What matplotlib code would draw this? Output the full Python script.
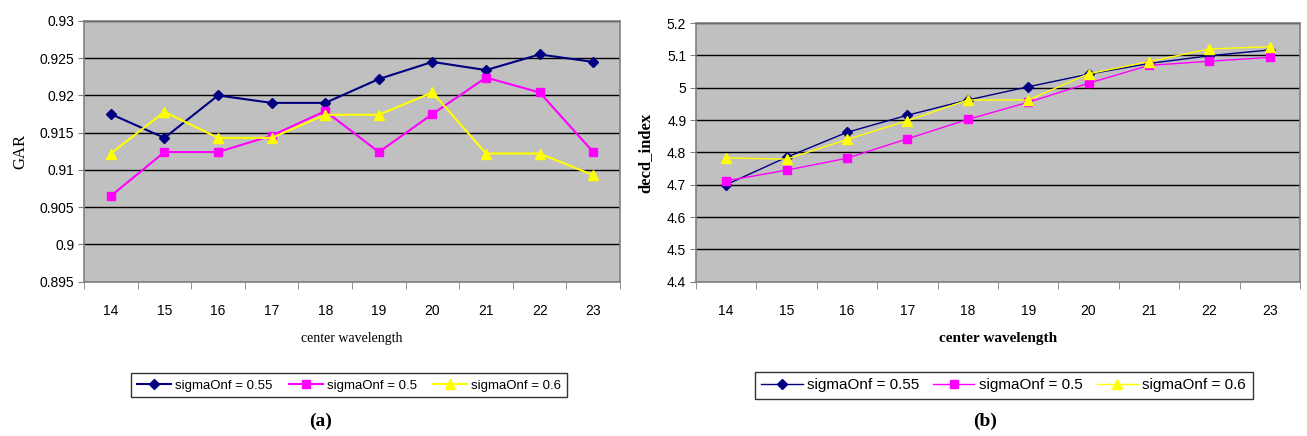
import matplotlib.pyplot as plt
import numpy as np

# ----------------------------------------------------
# DATA
# ----------------------------------------------------
wavelengths = ["14", "15", "16", "17", "18", "19", "20", "21", "22", "23"]
series_labels = ["sigmaOnf = 0.55", "sigmaOnf = 0.5", "sigmaOnf = 0.6"]

gar_055 = [0.9175, 0.9143, 0.9200, 0.9190, 0.9190, 0.9222, 0.9245, 0.9234, 0.9255, 0.9245]
gar_050 = [0.9065, 0.9124, 0.9124, 0.9146, 0.9179, 0.9124, 0.9175, 0.9224, 0.9204, 0.9124]
gar_060 = [0.9122, 0.9178, 0.9143, 0.9143, 0.9174, 0.9174, 0.9204, 0.9122, 0.9122, 0.9093]

decd_055 = [4.700, 4.785, 4.862, 4.915, 4.962, 5.003, 5.042, 5.075, 5.099, 5.117]
decd_050 = [4.712, 4.745, 4.782, 4.842, 4.902, 4.955, 5.014, 5.069, 5.082, 5.094]
decd_060 = [4.783, 4.779, 4.840, 4.898, 4.962, 4.962, 5.043, 5.081, 5.120, 5.127]

colors = ["#000080", "#FF00FF", "#FFFF00"]
markers = ["D", "s", "^"]
msizes = [5, 6, 7]

SANS = "Liberation Sans"
SERIF = "Liberation Serif"


def style_axes(ax, ylim, yticks, yfmt):
    n = len(wavelengths)
    x = np.arange(n)
    ax.set_facecolor("#C0C0C0")
    ax.set_xlim(-0.5, n - 0.5)
    ax.set_ylim(*ylim)
    ax.set_yticks(yticks)
    ax.set_yticklabels([yfmt(v) for v in yticks], fontfamily=SANS, fontsize=10)
    # category labels centred, tick marks on boundaries
    ax.set_xticks(x)
    ax.set_xticklabels(wavelengths, fontfamily=SANS, fontsize=10)
    ax.tick_params(axis="x", which="major", length=0, pad=16)
    ax.set_xticks(np.arange(-0.5, n, 1.0), minor=True)
    ax.tick_params(axis="x", which="minor", length=5, direction="out", color="#808080")
    ax.tick_params(axis="y", length=4, direction="out", color="#808080", pad=3)
    ax.grid(axis="y", color="black", linewidth=1.0)
    ax.set_axisbelow(True)
    for s in ax.spines.values():
        s.set_color("#808080")
        s.set_linewidth(1.2)


fig = plt.figure(figsize=(13.07, 4.36), dpi=100)

ax1 = fig.add_axes([0.0643, 0.354, 0.4101, 0.598])
ax2 = fig.add_axes([0.5325, 0.354, 0.4621, 0.593])

x = np.arange(len(wavelengths))

for ys, c, m, ms, lab in zip([gar_055, gar_050, gar_060], colors, markers, msizes, series_labels):
    ax1.plot(x, ys, color=c, marker=m, markersize=ms, linewidth=1.5, label=lab, zorder=3)

for ys, c, m, ms, lab in zip([decd_055, decd_050, decd_060], colors, markers, msizes, series_labels):
    ax2.plot(x, ys, color=c, marker=m, markersize=ms, linewidth=1.0, label=lab, zorder=3)

style_axes(ax1, (0.895, 0.93), np.arange(0.895, 0.9301, 0.005),
           lambda v: ("%.3f" % v).rstrip("0").rstrip("."))
style_axes(ax2, (4.4, 5.2), np.arange(4.4, 5.2001, 0.1),
           lambda v: ("%.1f" % v).rstrip("0").rstrip("."))

ax1.set_xlabel("center wavelength", fontfamily=SERIF, fontsize=10, labelpad=10)
ax1.set_ylabel("GAR", fontfamily=SERIF, fontsize=12, labelpad=8)
ax2.set_xlabel("center wavelength", fontfamily=SERIF, fontsize=11, fontweight="bold", labelpad=10)
ax2.set_ylabel("decd_index", fontfamily=SERIF, fontsize=12, fontweight="bold", labelpad=10)

legend_opts = [
    (ax1, 0.267, 9.5, 2.6, 1.2),
    (ax2, 0.768, 11, 2.7, 0.9),
]
for ax, cx, fs, hl, cs in legend_opts:
    h, l = ax.get_legend_handles_labels()
    leg = fig.legend(h, l, loc="center", bbox_to_anchor=(cx, 0.116), ncol=3,
                     frameon=True, fancybox=False, edgecolor="black",
                     prop={"family": SANS, "size": fs}, handlelength=hl,
                     handletextpad=0.3, columnspacing=cs, borderpad=0.45)
    leg.get_frame().set_linewidth(1.0)

fig.text(0.245, 0.034, "(a)", fontfamily=SERIF, fontsize=14, fontweight="bold", ha="center", va="center")
fig.text(0.754, 0.034, "(b)", fontfamily=SERIF, fontsize=14, fontweight="bold", ha="center", va="center")

fig.savefig("out.png", dpi=100)
